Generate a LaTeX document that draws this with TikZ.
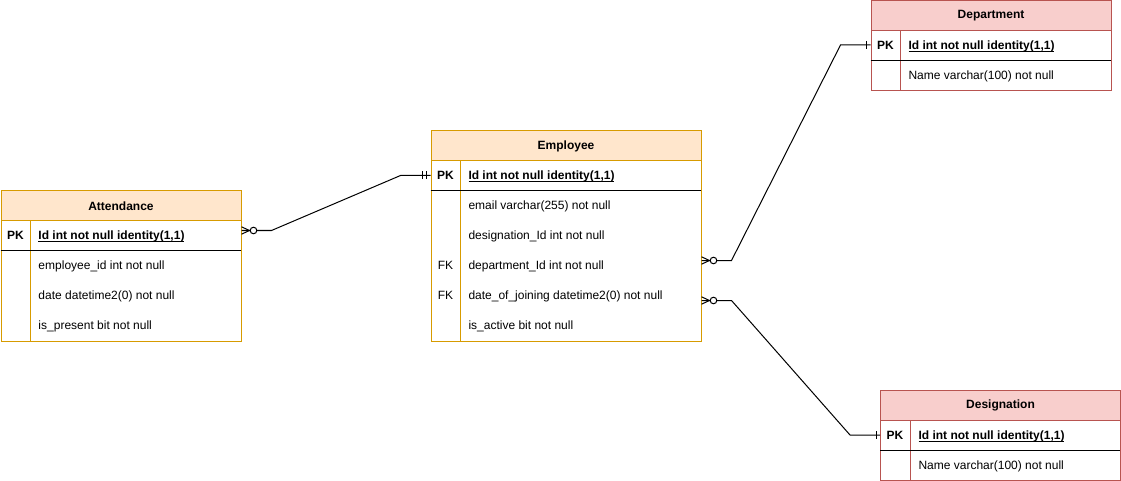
\documentclass[tikz,border=0pt]{standalone}
\usepackage{fontspec}
\setmainfont{Liberation Sans}
\usetikzlibrary{calc}
\newsavebox{\myulbox}
\newcommand{\myul}[1]{\sbox{\myulbox}{#1}\rlap{\rule[-1.5pt]{\wd\myulbox}{0.7pt}}\usebox{\myulbox}}
\definecolor{ofill}{HTML}{FFE6CC}
\definecolor{oline}{HTML}{D79B00}
\definecolor{rfill}{HTML}{F8CECC}
\definecolor{rline}{HTML}{B85450}
\tikzset{
  zmany/.pic={\draw (0,-3.7) -- (8,0) -- (0,3.7); \draw[fill=white] (12,0) circle[radius=3.3];},
  onebar/.pic={\draw (-4,-4) -- (-4,4);},
  twobar/.pic={\draw (-8,-4) -- (-8,4); \draw (-4,-4) -- (-4,4);}
}
\begin{document}
\begin{tikzpicture}[x=0.75pt,y=-0.75pt,line width=0.75pt,
  every node/.style={font=\fontsize{9}{11}\selectfont},
  ttl/.style={draw, inner sep=0pt, anchor=north west, minimum height=22.5pt, font=\bfseries\fontsize{9}{11}\selectfont},
  tbox/.style={draw, inner sep=0pt, anchor=north west},
  fld/.style={anchor=base west, inner sep=0pt},
  pkfld/.style={anchor=base west, inner sep=0pt, font=\bfseries\fontsize{9}{11}\selectfont},
  keyl/.style={anchor=base, inner sep=0pt},
  pkl/.style={anchor=base, inner sep=0pt, font=\bfseries\fontsize{9}{11}\selectfont},
  conn/.style={draw=black, line width=0.75pt}
]
\useasboundingbox (0,0) rectangle (1121,481);

% ---------- Attendance ----------
\node[ttl, fill=ofill, draw=oline, minimum width=180pt] (attT) at (0.5,190.5) {Attendance};
\node[tbox, draw=oline, minimum width=180pt, minimum height=112.5pt] (att) at (0.5,190.5) {};
\draw[oline] (30.5,220.5) -- (30.5,340.5);
\draw[black] (0.5,250.5) -- (240.5,250.5);
\node[pkl] (attPK) at (15.5,239.5) {PK};
\node[pkfld] (attId) at (38,239.5) {\myul{Id int not null identity(1,1)}};
\node[fld] (attE) at (38,269.5) {employee\_id int not null};
\node[fld] (attD) at (38,299.5) {date datetime2(0) not null};
\node[fld] (attP) at (38,329.5) {is\_present bit not null};

% ---------- Employee ----------
\node[ttl, fill=ofill, draw=oline, minimum width=202.5pt] (empT) at (430.5,130.5) {Employee};
\node[tbox, draw=oline, minimum width=202.5pt, minimum height=157.5pt] (emp) at (430.5,130.5) {};
\draw[oline] (460.5,160.5) -- (460.5,340.5);
\draw[black] (430.5,190.5) -- (700.5,190.5);
\node[pkl] (empPK) at (445.5,179.5) {PK};
\node[pkfld] (empId) at (468,179.5) {\myul{Id int not null identity(1,1)}};
\node[fld] (empEm) at (468,209.5) {email varchar(255) not null};
\node[fld] (empDs) at (468,239.5) {designation\_Id int not null};
\node[keyl] (empFK1) at (445.5,269.5) {FK};
\node[fld] (empDp) at (468,269.5) {department\_Id int not null};
\node[keyl] (empFK2) at (445.5,299.5) {FK};
\node[fld] (empJ) at (468,299.5) {date\_of\_joining datetime2(0) not null};
\node[fld] (empA) at (468,329.5) {is\_active bit not null};

% ---------- Department ----------
\node[ttl, fill=rfill, draw=rline, minimum width=180pt] (depT) at (870.5,0.5) {Department};
\node[tbox, draw=rline, minimum width=180pt, minimum height=67.5pt] (dep) at (870.5,0.5) {};
\draw[rline] (900.5,30.5) -- (900.5,90.5);
\draw[black] (870.5,60.5) -- (1110.5,60.5);
\node[pkl] (depPK) at (885.5,49.5) {PK};
\node[pkfld] (depId) at (908,49.5) {\myul{Id int not null identity(1,1)}};
\node[fld] (depN) at (908,79.5) {Name varchar(100) not null};

% ---------- Designation ----------
\node[ttl, fill=rfill, draw=rline, minimum width=180pt] (desT) at (880,390) {Designation};
\node[tbox, draw=rline, minimum width=180pt, minimum height=67.5pt] (des) at (880,390) {};
\draw[rline] (910,420) -- (910,480);
\draw[black] (880,450) -- (1120,450);
\node[pkl] (desPK) at (895,439.5) {PK};
\node[pkfld] (desId) at (918,439.5) {\myul{Id int not null identity(1,1)}};
\node[fld] (desN) at (918,469.5) {Name varchar(100) not null};

% ---------- Connectors ----------
\coordinate (a1) at ($(att.north east)+(0,40)$);
\coordinate (b1) at ($(emp.north west)+(0,45)$);
\draw[conn] (a1) -- ++(30,0) -- ($(b1)+(-30,0)$) -- (b1);
\pic at (a1) {zmany};
\pic at (b1) {twobar};

\coordinate (a2) at ($(emp.north east)+(0,130)$);
\coordinate (b2) at ($(dep.north west)+(0,44.5)$);
\draw[conn] (a2) -- ++(30,0) -- ($(b2)+(-30,0)$) -- (b2);
\pic at (a2) {zmany};
\pic at (b2) {onebar};

\coordinate (a3) at ($(emp.north east)+(0,170)$);
\coordinate (b3) at ($(des.north west)+(0,45)$);
\draw[conn] (a3) -- ++(30,0) -- ($(b3)+(-30,0)$) -- (b3);
\pic at (a3) {zmany};
\pic at (b3) {onebar};
\end{tikzpicture}
\end{document}
